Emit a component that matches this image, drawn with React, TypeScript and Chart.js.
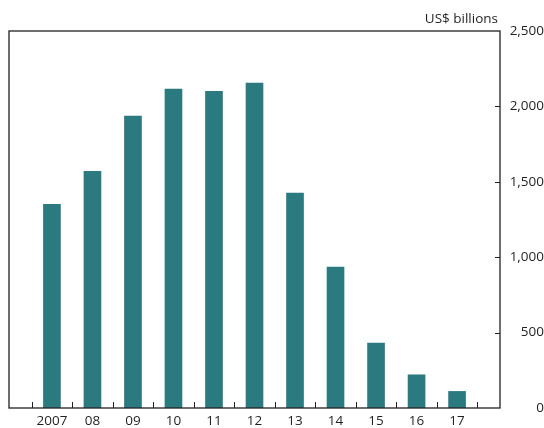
import React, { useEffect, useRef } from "react";
import { Chart, registerables } from "chart.js";

Chart.register(...registerables);

const categories = ["2007", "08", "09", "10", "11", "12", "13", "14", "15", "16", "17"];
const values = [1350, 1570, 1935, 2115, 2100, 2155, 1425, 935, 430, 220, 110];
const yTicks = [0, 500, 1000, 1500, 2000, 2500];
const unitLabel = "US$ billions";

const FONT = "'Open Sans', 'Noto Sans', sans-serif";
const INK = "#231f20";
const BAR = "#2b7a80";
const SIZE = 13.5;

const framePlugin = {
  id: "frame",
  afterDraw(chart: any) {
    const { ctx, chartArea: a, scales } = chart;
    const x = scales.x;
    const y = scales.y;
    ctx.save();
    ctx.strokeStyle = INK;
    ctx.lineWidth = 1.3;
    ctx.strokeRect(a.left, a.top, a.right - a.left, a.bottom - a.top);
    ctx.lineWidth = 1;
    ctx.beginPath();
    for (let i = 0; i <= categories.length; i++) {
      const px = Math.round(x.getPixelForValue(i - 0.5)) + 0.5;
      ctx.moveTo(px, a.bottom);
      ctx.lineTo(px, a.bottom - 6);
    }
    yTicks.slice(1, -1).forEach((v) => {
      const py = Math.round(y.getPixelForValue(v)) + 0.5;
      ctx.moveTo(a.right, py);
      ctx.lineTo(a.right - 5, py);
    });
    ctx.stroke();
    ctx.fillStyle = INK;
    ctx.font = `${SIZE}px ${FONT}`;
    ctx.textAlign = "right";
    ctx.textBaseline = "bottom";
    ctx.fillText(unitLabel, a.right - 2, a.top - 5);
    ctx.restore();
  },
};

export default function App() {
  const ref = useRef<HTMLCanvasElement | null>(null);
  useEffect(() => {
    if (!ref.current) return;
    const chart = new Chart(ref.current, {
      type: "bar",
      data: {
        datasets: [
          {
            data: categories.map((_, i) => ({ x: i, y: values[i] })),
            backgroundColor: BAR,
            borderWidth: 0,
            barThickness: 17,
          },
        ],
      },
      options: {
        responsive: false,
        animation: false,
        layout: { padding: { left: 9, top: 31, right: 0, bottom: 0 } },
        plugins: { legend: { display: false }, tooltip: { enabled: false } },
        scales: {
          x: {
            type: "linear",
            offset: false,
            min: -1.06,
            max: 11.06,
            grid: { display: false, drawTicks: false, tickLength: 0 },
            border: { display: false },
            afterBuildTicks: (s: any) => {
              s.ticks = categories.map((_, i) => ({ value: i }));
            },
            afterFit: (s: any) => {
              s.height = 20;
            },
            ticks: {
              autoSkip: false,
              maxRotation: 0,
              padding: 5,
              color: INK,
              font: { family: FONT, size: SIZE },
              callback: (_v: any, i: number) => categories[i],
            },
          },
          y: {
            position: "right",
            min: 0,
            max: 2500,
            grid: { display: false, drawTicks: false, tickLength: 0 },
            border: { display: false },
            afterFit: (s: any) => {
              s.width = 44;
            },
            ticks: {
              stepSize: 500,
              crossAlign: "far",
              padding: 7,
              color: INK,
              font: { family: FONT, size: SIZE },
              callback: (v: any) => Number(v).toLocaleString("en-US"),
            },
          },
        },
      },
      plugins: [framePlugin],
    } as any);
    return () => chart.destroy();
  }, []);
  return (
    <div style={{ position: "absolute", left: 0, top: 0, width: 544, height: 428 }}>
      <canvas ref={ref} width={544} height={428} />
    </div>
  );
}
